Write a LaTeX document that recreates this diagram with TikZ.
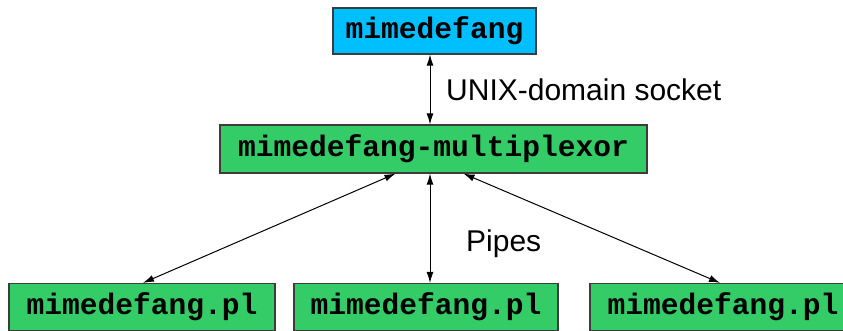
\documentclass[tikz,border=0pt]{standalone}
\usepackage{fontspec}
\setmainfont{Liberation Sans}
\setmonofont{Liberation Mono}
\usetikzlibrary{arrows.meta}
\definecolor{boxcyan}{RGB}{0,191,255}
\definecolor{boxgreen}{RGB}{51,204,102}
\definecolor{edgegray}{RGB}{60,60,60}
\tikzset{
  procbox/.style={draw=edgegray, line width=1.2pt, inner sep=0pt, minimum height=47pt,
    font=\fontsize{29.6}{32}\selectfont\ttfamily\bfseries},
  arr/.style={{Latex[length=11pt,width=7pt]}-{Latex[length=11pt,width=7pt]}, line width=1pt, black},
  lbl/.style={font=\fontsize{30}{34}\selectfont, inner sep=0pt, anchor=west}
}
\begin{document}
\begin{tikzpicture}[x=1pt,y=-1pt]
\clip (0,0) rectangle (843,331);
\fill[white] (0,0) rectangle (843,331);
\node[procbox, fill=boxcyan, minimum width=203pt, minimum height=46pt] (top) at (434.5,31) {mimedefang};
\node[procbox, fill=boxgreen, minimum width=427pt, minimum height=48pt] (mux) at (433.5,149) {mimedefang-multiplexor};
\node[procbox, fill=boxgreen, minimum width=266pt] (b1) at (142,307) {mimedefang.pl};
\node[procbox, fill=boxgreen, minimum width=264pt] (b2) at (426,307) {mimedefang.pl};
\node[procbox, fill=boxgreen, minimum width=266pt] (b3) at (723,307) {mimedefang.pl};
\draw[arr] ([xshift=-4.5pt]top.south) -- ([xshift=-3.5pt]mux.north);
\draw[arr] ([xshift=-38pt]mux.south) -- ([xshift=1pt]b1.north);
\draw[arr] ([xshift=-3.5pt]mux.south) -- ([xshift=4pt]b2.north);
\draw[arr] ([xshift=30pt]mux.south) -- ([xshift=-3pt]b3.north);
\node[lbl] (sock) at (446,90) {UNIX-domain socket};
\node[lbl] (pipes) at (466,244) {Pipes};
\end{tikzpicture}
\end{document}
